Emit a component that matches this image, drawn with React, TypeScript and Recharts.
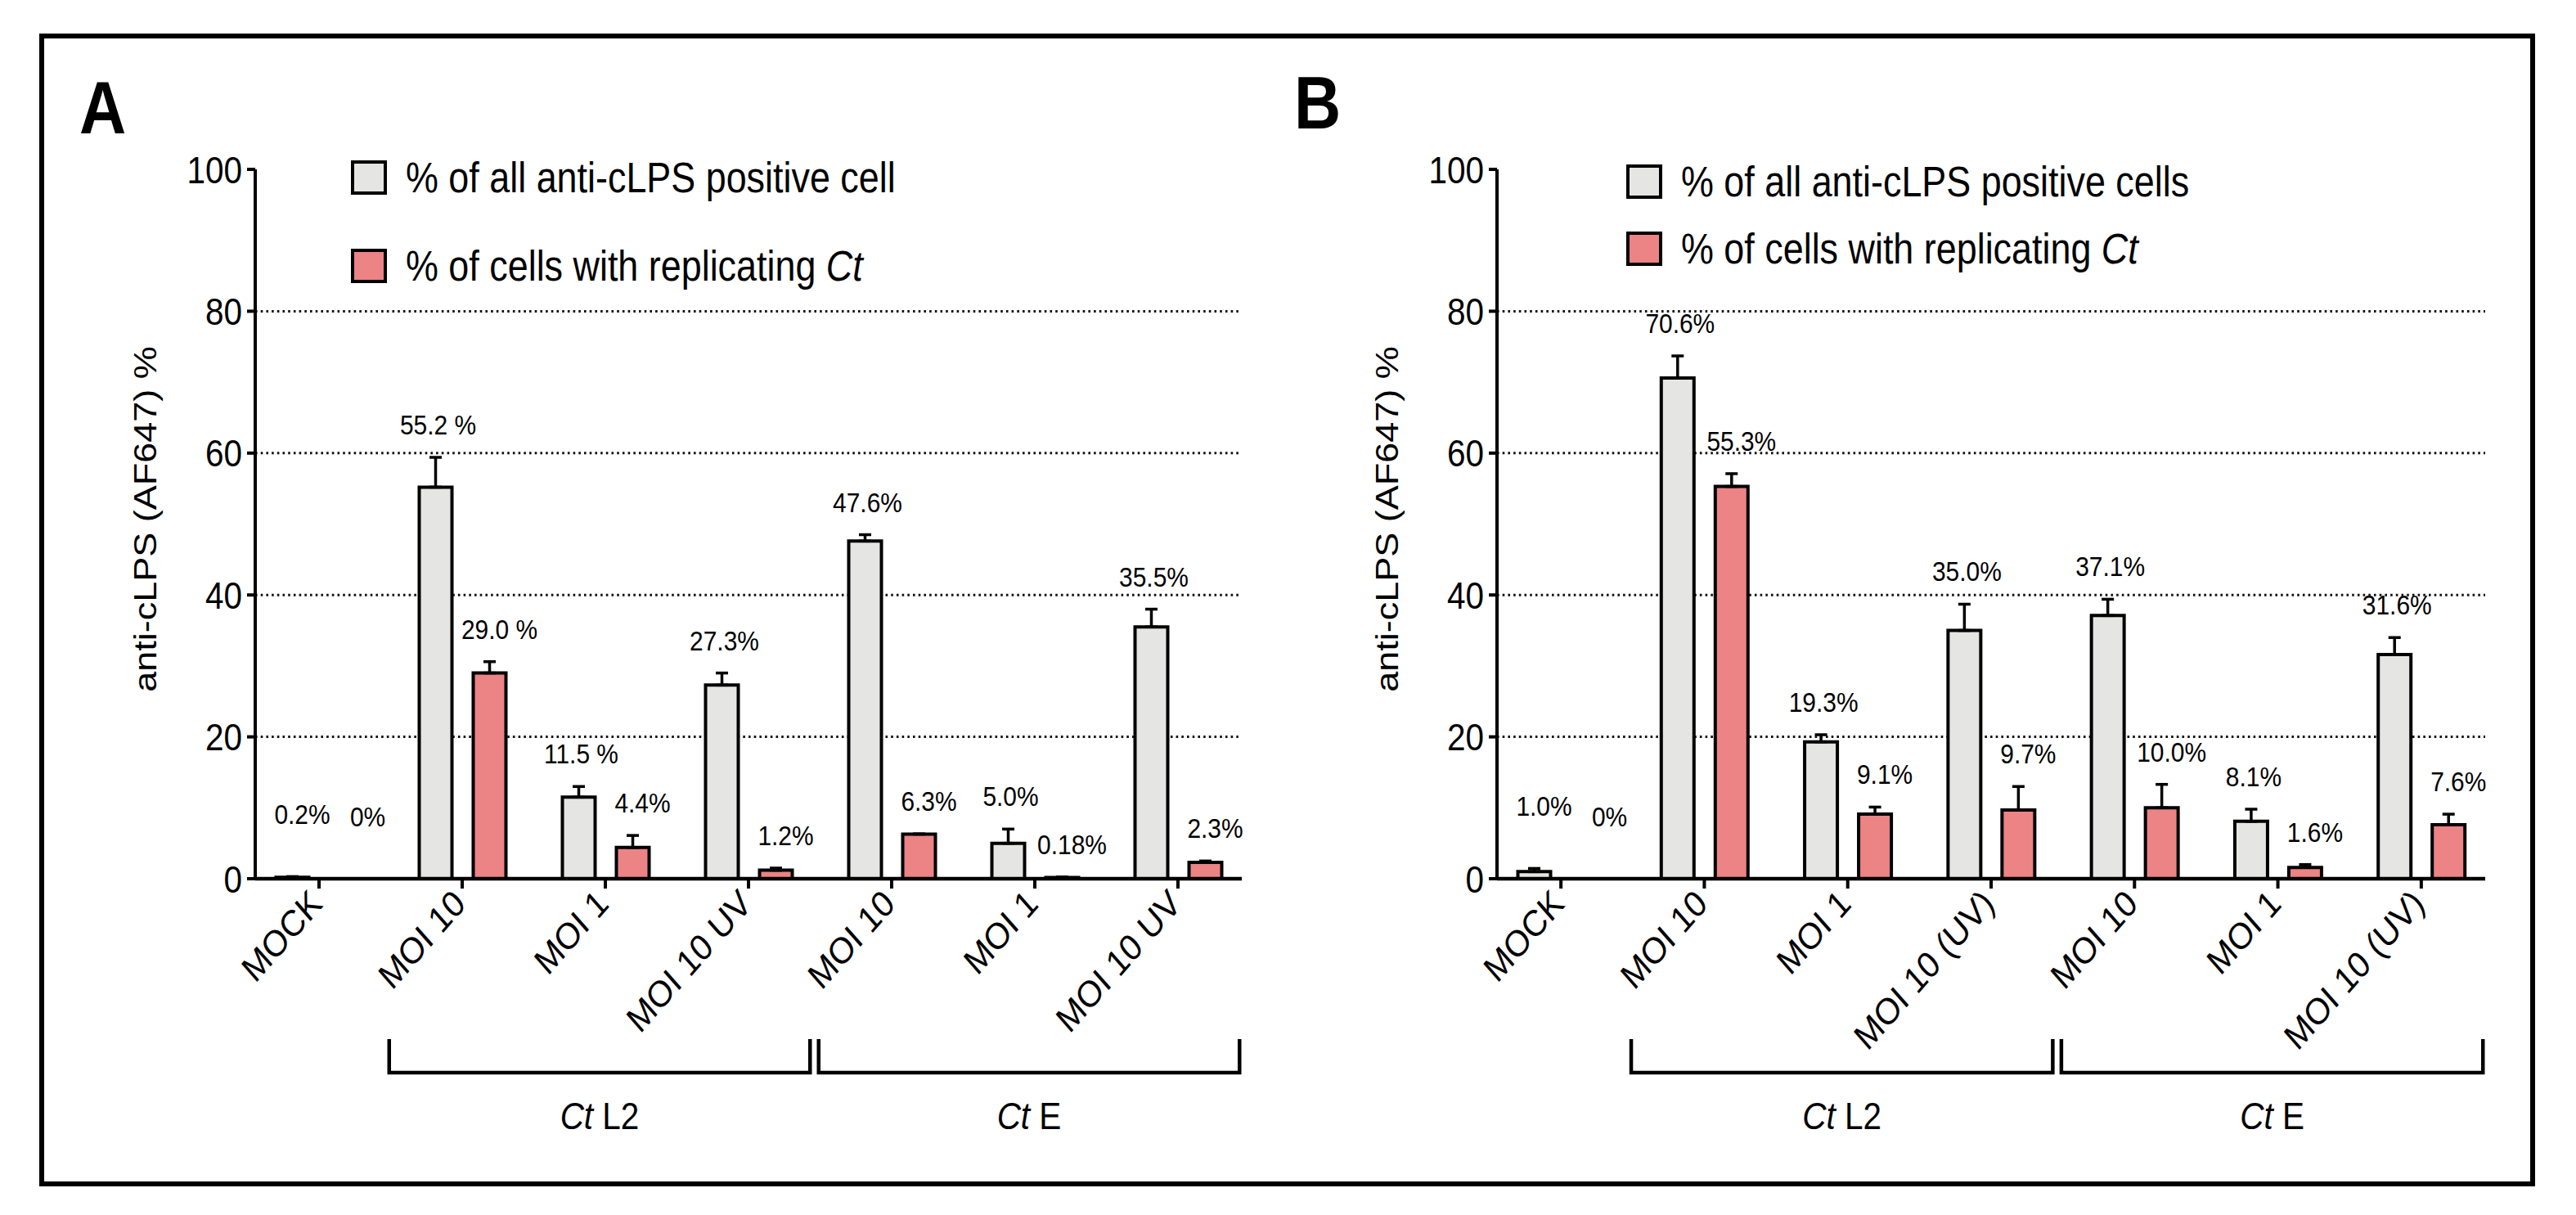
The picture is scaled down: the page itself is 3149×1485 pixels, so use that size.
import React from "react";
import { BarChart, Bar, XAxis, YAxis, CartesianGrid, ErrorBar, LabelList, Legend } from "recharts";

const FONT = "'Liberation Sans', Arial, Helvetica, sans-serif";
const SQUEEZE = 0.88; // the source figure is slightly squeezed horizontally
const GRAY = "#E5E5E3";
const RED = "#EC8385";
const PAGE_W = 3149;
const PAGE_H = 1485;
const PLOT_TOP = 207;
const PLOT_BOTTOM = 1074;
const PX_PER_UNIT = (PLOT_BOTTOM - PLOT_TOP) / 100;
const PAD = 9.5;

// ---- panel A ----
const categoriesA = ["MOCK", "L2 MOI 10", "L2 MOI 1", "L2 MOI 10 UV", "E MOI 10", "E MOI 1", "E MOI 10 UV"];
const tickLabelsA = ["MOCK", "MOI 10", "MOI 1", "MOI 10 UV", "MOI 10", "MOI 1", "MOI 10 UV"];
const allCellsA = [0.2, 55.2, 11.5, 27.3, 47.6, 5.0, 35.5];
const allCellsErrA = [0.1, 4.2, 1.5, 1.7, 0.9, 2.0, 2.5];
const replicatingA = [0, 29.0, 4.4, 1.2, 6.3, 0.18, 2.3];
const replicatingErrA = [0, 1.6, 1.7, 0.3, 0, 0.05, 0.2];
const allCellsLabelsA = ["0.2%", "55.2 %", "11.5 %", "27.3%", "47.6%", "5.0%", "35.5%"];
const replicatingLabelsA = ["0%", "29.0 %", "4.4%", "1.2%", "6.3%", "0.18%", "2.3%"];
const legendA = ["% of all anti-cLPS positive cell", "% of cells with replicating "];

// ---- panel B ----
const categoriesB = ["MOCK", "L2 MOI 10", "L2 MOI 1", "L2 MOI 10 (UV)", "E MOI 10", "E MOI 1", "E MOI 10 (UV)"];
const tickLabelsB = ["MOCK", "MOI 10", "MOI 1", "MOI 10 (UV)", "MOI 10", "MOI 1", "MOI 10 (UV)"];
const allCellsB = [1.0, 70.6, 19.3, 35.0, 37.1, 8.1, 31.6];
const allCellsErrB = [0.45, 3.1, 1.0, 3.7, 2.3, 1.7, 2.4];
const replicatingB = [0, 55.3, 9.1, 9.7, 10.0, 1.6, 7.6];
const replicatingErrB = [0, 1.8, 1.0, 3.3, 3.3, 0.4, 1.5];
const allCellsLabelsB = ["1.0%", "70.6%", "19.3%", "35.0%", "37.1%", "8.1%", "31.6%"];
const replicatingLabelsB = ["0%", "55.3%", "9.1%", "9.7%", "10.0%", "1.6%", "7.6%"];
const legendB = ["% of all anti-cLPS positive cells", "% of cells with replicating "];

// shared
const strainNames = ["L2", "E"];
const strainMiddleIndex = [2, 5];
const yTicks = [0, 20, 40, 60, 80, 100];
const gridValues = [20, 40, 60, 80];
const yTitle = "anti-cLPS (AF647) %";

const panels = [
  {
    letter: "A",
    letterX: 97,
    letterY: 163,
    left: 0,
    width: 1560,
    plotLeft: 312,
    plotRight: 1518,
    categories: categoriesA,
    tickLabels: tickLabelsA,
    all: allCellsA,
    allErr: allCellsErrA,
    rep: replicatingA,
    repErr: replicatingErrA,
    allLabels: allCellsLabelsA,
    repLabels: replicatingLabelsA,
    legend: legendA,
    swatchLeft: 429,
    rowCenters: [217, 325],
  },
  {
    letter: "B",
    letterX: 1582,
    letterY: 157,
    left: 1550,
    width: 1599,
    plotLeft: 280,
    plotRight: 1488,
    categories: categoriesB,
    tickLabels: tickLabelsB,
    all: allCellsB,
    allErr: allCellsErrB,
    rep: replicatingB,
    repErr: replicatingErrB,
    allLabels: allCellsLabelsB,
    repLabels: replicatingLabelsB,
    legend: legendB,
    swatchLeft: 438,
    rowCenters: [222, 304],
  },
];

function ValueTick(props: any) {
  const { x, y, payload } = props;
  return (
    <text
      transform={`translate(${x},${y}) scale(${SQUEEZE},1)`}
      textAnchor="end"
      dy="0.36em"
      fontSize={46}
      fontFamily={FONT}
      fill="#000"
    >
      {payload.value}
    </text>
  );
}

function CategoryTick(props: any) {
  const { x, y, index, labels, band } = props;
  const g = strainMiddleIndex.indexOf(index);
  let bracket = null;
  if (g >= 0) {
    const left = x - 1.51 * band;
    const right = x + 1.43 * band;
    const top = y + 184;
    const line = y + 225;
    bracket = (
      <g>
        <path
          d={`M${left},${top} V${line} H${right} V${top}`}
          fill="none"
          stroke="#000"
          strokeWidth={4.5}
        />
        <text
          transform={`translate(${(left + right) / 2},${y + 294}) scale(${SQUEEZE},1)`}
          textAnchor="middle"
          fontSize={46}
          fontFamily={FONT}
          fill="#000"
        >
          <tspan fontStyle="italic">Ct</tspan> {strainNames[g]}
        </text>
      </g>
    );
  }
  return (
    <g>
      <text
        transform={`translate(${x + 6},${y + 21}) scale(${SQUEEZE},1) rotate(-45)`}
        textAnchor="end"
        fontSize={45}
        fontFamily={FONT}
        fill="#000"
      >
        {labels[index]}
      </text>
      {bracket}
    </g>
  );
}

function YTitle(props: any) {
  const { tx, ty } = props;
  return (
    <text
      transform={`translate(${tx},${ty}) scale(${SQUEEZE},1) rotate(-90)`}
      textAnchor="middle"
      dy="0.36em"
      fontSize={45}
      fontFamily={FONT}
      fill="#000"
    >
      {yTitle}
    </text>
  );
}

function makeBarLabel(errs: number[], dx: number, mockDx: number) {
  return (props: any) => {
    const { x, y, width, value, index } = props;
    const i = typeof index === "number" ? index : 0;
    const errTop = Number(y) - (errs[i] || 0) * PX_PER_UNIT;
    const lift = i === 0 ? 36 : 0;
    const cx = Number(x) + Number(width) / 2 + dx + (i === 0 ? mockDx : 0);
    return (
      <text
        transform={`translate(${cx},${errTop - 28 - lift}) scale(${SQUEEZE},1)`}
        textAnchor="middle"
        fontSize={34}
        fontFamily={FONT}
        fill="#000"
      >
        {value}
      </text>
    );
  };
}

function LegendBlock({ swatchLeft, rowCenters, texts }: any) {
  const rows = [
    { fill: GRAY, text: <>{texts[0]}</> },
    {
      fill: RED,
      text: (
        <>
          {texts[1]}
          <i>Ct</i>
        </>
      ),
    },
  ];
  return (
    <div>
      {rows.map((r, i) => (
        <div
          key={i}
          style={{
            position: "absolute",
            left: swatchLeft,
            top: rowCenters[i] - 30,
            height: 60,
            display: "flex",
            alignItems: "center",
            whiteSpace: "nowrap",
            fontFamily: FONT,
            fontSize: 51,
            color: "#000",
          }}
        >
          <div
            style={{
              width: 44,
              height: 42,
              boxSizing: "border-box",
              border: "4px solid #000",
              background: r.fill,
              flex: "none",
            }}
          />
          <span
            style={{
              marginLeft: 23,
              display: "inline-block",
              transform: `scaleX(${SQUEEZE})`,
              transformOrigin: "left center",
              lineHeight: 1,
            }}
          >
            {r.text}
          </span>
        </div>
      ))}
    </div>
  );
}

// zero-height bars still need a rectangle so their "0%" label gets drawn
const keepZeroBar = (v: number) => (v === 0 ? 0.01 : 0);

function Panel({ cfg }: any) {
  const data = cfg.categories.map((cat: string, i: number) => ({
    cat,
    all: cfg.all[i],
    allErr: [0, cfg.allErr[i]],
    allLabel: cfg.allLabels[i],
    rep: cfg.rep[i],
    repErr: [0, cfg.repErr[i]],
    repLabel: cfg.repLabels[i],
  }));
  const band = (cfg.plotRight - cfg.plotLeft + 2 * PAD) / cfg.categories.length;

  return (
    <div style={{ position: "absolute", left: cfg.left, top: 0 }}>
      <BarChart
        width={cfg.width}
        height={PAGE_H}
        data={data}
        margin={{ top: PLOT_TOP, left: cfg.plotLeft - 60, right: cfg.width - cfg.plotRight, bottom: PAGE_H - PLOT_BOTTOM - 60 }}
        barSize={40}
        barGap={26}
      >
        <CartesianGrid
          vertical={false}
          horizontalValues={gridValues}
          stroke="#111"
          strokeWidth={3}
          strokeDasharray="2.6 4.1"
        />
        <XAxis
          dataKey="cat"
          interval={0}
          height={60}
          padding={{ left: -PAD, right: -PAD }}
          axisLine={{ stroke: "#000", strokeWidth: 4.5 }}
          tickLine={{ stroke: "#000", strokeWidth: 4 }}
          tickSize={12}
          tickMargin={0}
          tick={(p: any) => <CategoryTick {...p} labels={cfg.tickLabels} band={band} />}
        />
        <YAxis
          domain={[0, 100]}
          ticks={yTicks}
          interval={0}
          width={60}
          allowDataOverflow
          axisLine={{ stroke: "#000", strokeWidth: 4 }}
          tickLine={{ stroke: "#000", strokeWidth: 4 }}
          tickSize={10}
          tickMargin={6}
          tick={ValueTick}
          label={<YTitle tx={cfg.plotLeft - 135} ty={(PLOT_TOP + PLOT_BOTTOM) / 2 - 6} />}
        />
        <Legend
          layout="vertical"
          align="center"
          verticalAlign="middle"
          wrapperStyle={{ position: "absolute", left: 0, top: 0, width: 0, height: 0 }}
          content={() => (
            <LegendBlock swatchLeft={cfg.swatchLeft} rowCenters={cfg.rowCenters} texts={cfg.legend} />
          )}
        />
        <Bar dataKey="all" fill={GRAY} stroke="#000" strokeWidth={4} minPointSize={keepZeroBar} isAnimationActive={false}>
          <ErrorBar dataKey="allErr" width={7.5} stroke="#000" strokeWidth={3.5} isAnimationActive={false} />
          <LabelList dataKey="allLabel" content={makeBarLabel(cfg.allErr, 3, 9)} />
        </Bar>
        <Bar dataKey="rep" fill={RED} stroke="#000" strokeWidth={4} minPointSize={keepZeroBar} isAnimationActive={false}>
          <ErrorBar dataKey="repErr" width={7.5} stroke="#000" strokeWidth={3.5} isAnimationActive={false} />
          <LabelList dataKey="repLabel" content={makeBarLabel(cfg.repErr, 12, 14)} />
        </Bar>
      </BarChart>
    </div>
  );
}

export default function App() {
  return (
    <div style={{ position: "absolute", left: 0, top: 0, width: PAGE_W, height: PAGE_H, background: "#fff" }}>
      {panels.map((cfg) => (
        <Panel key={cfg.letter} cfg={cfg} />
      ))}
      <svg
        width={PAGE_W}
        height={PAGE_H}
        style={{ position: "absolute", left: 0, top: 0, pointerEvents: "none" }}
      >
        <rect x={51} y={44} width={3045} height={1403} fill="none" stroke="#000" strokeWidth={6} />
        {panels.map((cfg) => (
          <text
            key={cfg.letter}
            transform={`translate(${cfg.letterX},${cfg.letterY}) scale(${SQUEEZE},1)`}
            fontSize={90}
            fontWeight="bold"
            fontFamily={FONT}
            fill="#000"
          >
            {cfg.letter}
          </text>
        ))}
      </svg>
    </div>
  );
}
